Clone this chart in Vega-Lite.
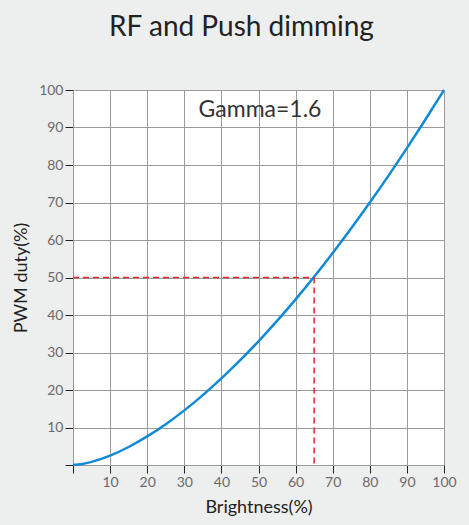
{
  "$schema": "https://vega.github.io/schema/vega-lite/v6.json",
  "width": 371,
  "height": 375,
  "autosize": {"type": "none"},
  "padding": {"left": 73, "top": 90, "right": 25, "bottom": 60},
  "background": "#edeeee",
  "title": {
    "text": "RF and Push dimming",
    "font": "Lato",
    "fontSize": 28,
    "fontWeight": "normal",
    "color": "#222222",
    "anchor": "middle",
    "dx": -17,
    "offset": 41
  },
  "config": {
    "view": {"fill": "white", "stroke": null},
    "axis": {
      "grid": true,
      "gridColor": "#9a9a9a",
      "gridWidth": 1,
      "domainColor": "#9a9a9a",
      "tickColor": "#222222",
      "tickSize": 8,
      "labelFont": "Lato",
      "labelFontSize": 14,
      "labelColor": "#6a6a6a",
      "labelFlush": false,
      "titleFont": "Lato",
      "titleFontSize": 18,
      "titleFontWeight": "normal",
      "titleColor": "#222222"
    }
  },
  "datasets": {
    "curve": [
      {"x": 0, "y": 0},
      {"x": 2.5, "y": 0.27},
      {"x": 5, "y": 0.83},
      {"x": 10, "y": 2.51},
      {"x": 15, "y": 4.8},
      {"x": 20, "y": 7.62},
      {"x": 25, "y": 10.88},
      {"x": 30, "y": 14.57},
      {"x": 35, "y": 18.64},
      {"x": 40, "y": 23.08},
      {"x": 45, "y": 27.87},
      {"x": 50, "y": 32.99},
      {"x": 55, "y": 38.42},
      {"x": 60, "y": 44.16},
      {"x": 65, "y": 50.2},
      {"x": 70, "y": 56.51},
      {"x": 75, "y": 63.11},
      {"x": 80, "y": 69.98},
      {"x": 85, "y": 77.1},
      {"x": 90, "y": 84.49},
      {"x": 95, "y": 92.12},
      {"x": 100, "y": 100}
    ],
    "guides": [
      {"x": 0, "y": 50, "x2": 65, "y2": 50},
      {"x": 65, "y": 50, "x2": 65, "y2": 0}
    ],
    "labels": [
      {"x": 50.4, "y": 94.7, "text": "Gamma=1.6"}
    ]
  },
  "encoding": {
    "x": {
      "field": "x",
      "type": "quantitative",
      "scale": {"domain": [0, 100], "nice": false},
      "axis": {
        "title": "Brightness(%)",
        "values": [0, 10, 20, 30, 40, 50, 60, 70, 80, 90, 100],
        "labelExpr": "datum.value == 0 ? '' : datum.label",
        "labelOverlap": false,
        "labelPadding": 2,
        "titlePadding": 9
      }
    },
    "y": {
      "field": "y",
      "type": "quantitative",
      "scale": {"domain": [0, 100], "nice": false},
      "axis": {
        "title": "PWM duty(%)",
        "values": [0, 10, 20, 30, 40, 50, 60, 70, 80, 90, 100],
        "labelExpr": "datum.value == 0 ? '' : datum.label",
        "labelOverlap": false,
        "labelPadding": 2,
        "titlePadding": 8
      }
    }
  },
  "layer": [
    {
      "data": {"name": "curve"},
      "mark": {"type": "line", "color": "#1189d6", "strokeWidth": 2.5, "interpolate": "monotone"}
    },
    {
      "data": {"name": "guides"},
      "mark": {"type": "rule", "color": "#e8232f", "strokeWidth": 1.5, "strokeDash": [6, 4]},
      "encoding": {
        "x2": {"field": "x2"},
        "y2": {"field": "y2"}
      }
    },
    {
      "data": {"name": "labels"},
      "mark": {"type": "text", "font": "Lato", "fontSize": 23, "color": "#333333", "align": "center", "baseline": "middle"},
      "encoding": {
        "text": {"field": "text"}
      }
    }
  ]
}
